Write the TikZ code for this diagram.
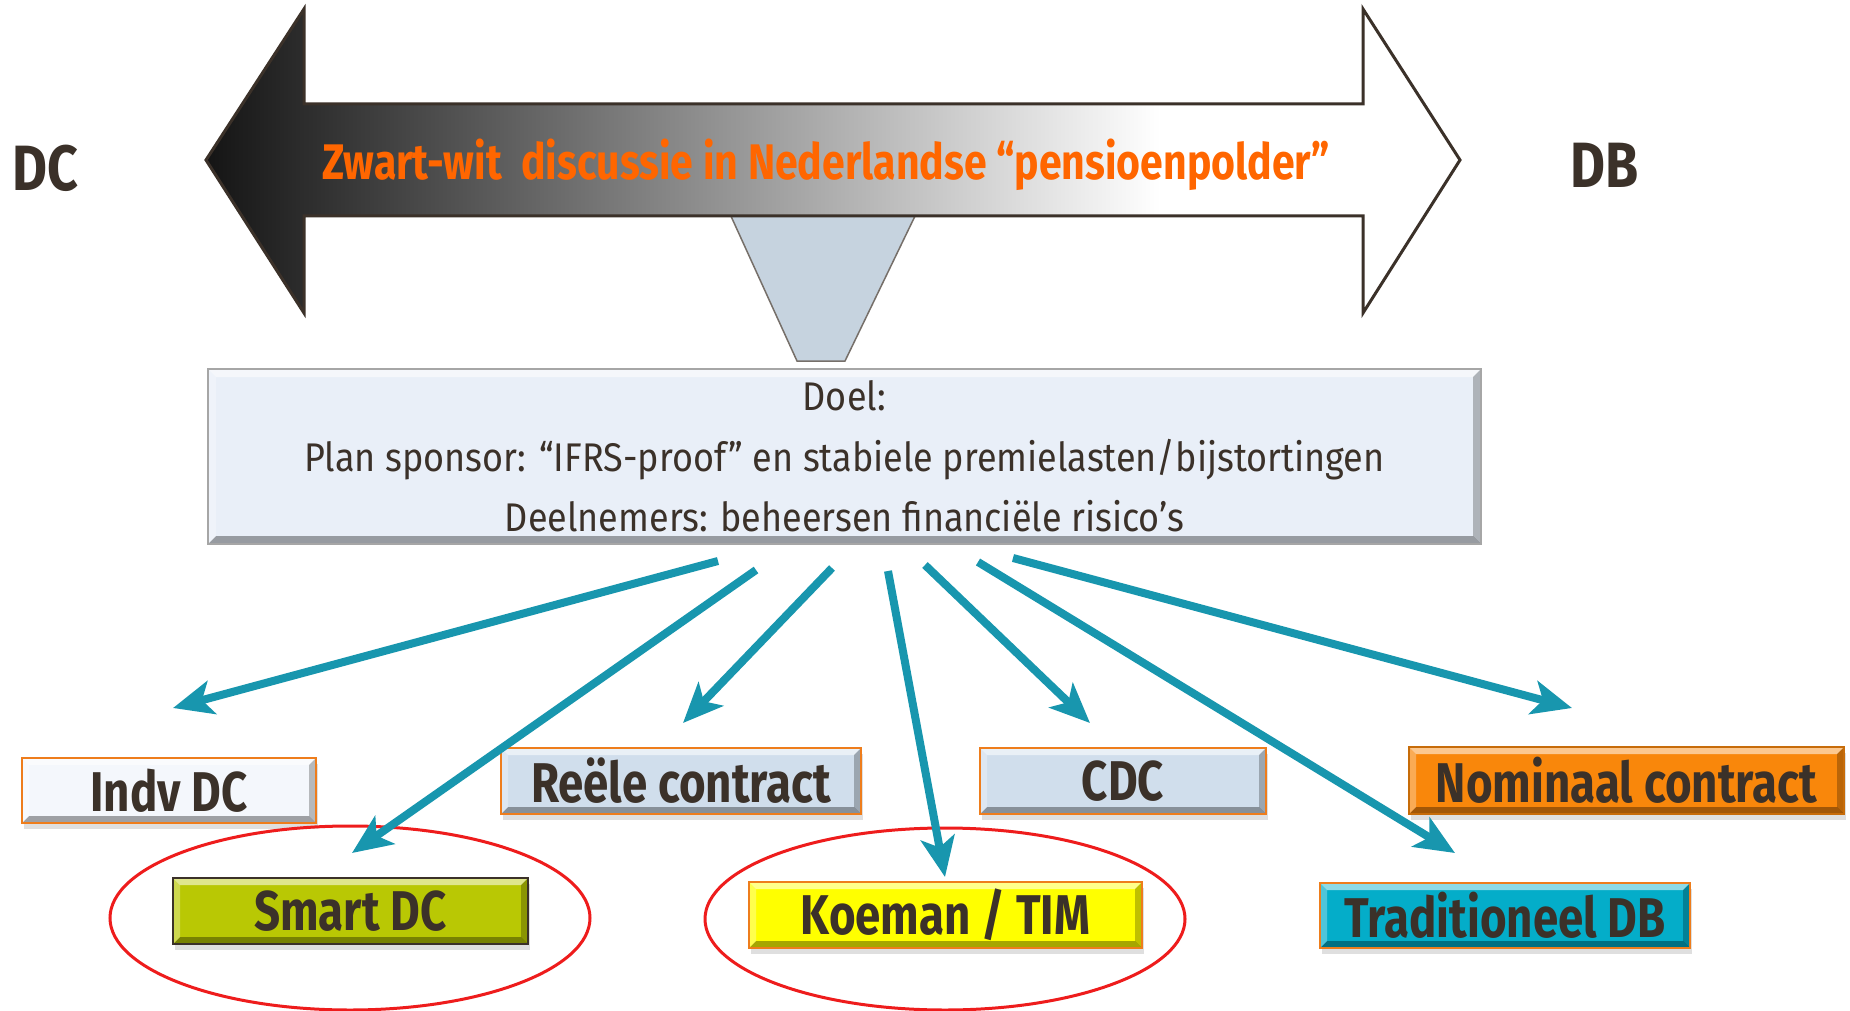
\documentclass[tikz,border=0pt]{standalone}
\usepackage{fontspec}
\setmainfont{Fira Sans}
\newfontfamily\lblfont[FakeStretch=0.815]{Fira Sans}
\newfontfamily\midfont[FakeStretch=0.90]{Fira Sans}
\newfontfamily\ttlfont[FakeStretch=0.82]{Fira Sans}
\newfontfamily\sidefont[FakeStretch=0.84]{Fira Sans}
\usetikzlibrary{arrows.meta,shadows,shapes.geometric}
\definecolor{txt}{HTML}{3B3129}
\definecolor{orng}{HTML}{FF6600}
\definecolor{tealc}{HTML}{1896AE}
\definecolor{lblue}{HTML}{D0DEEC}
\definecolor{boxbg}{HTML}{E9EFF8}
\definecolor{olive}{HTML}{B9C804}
\definecolor{yell}{HTML}{FFFF00}
\definecolor{orfill}{HTML}{F9870B}
\definecolor{cyanf}{HTML}{04ADC9}
\definecolor{obord}{HTML}{EE7D1C}
\definecolor{funnelc}{HTML}{C6D3DF}
\definecolor{redl}{HTML}{EE1C1C}
\definecolor{whitish}{HTML}{F4F7FC}
\tikzset{
  bevel/.style={path picture={
    \fill[white,opacity=.55] (path picture bounding box.north west) -- (path picture bounding box.north east) -- ([xshift=-#1,yshift=-#1]path picture bounding box.north east) -- ([xshift=#1,yshift=-#1]path picture bounding box.north west) -- cycle;
    \fill[black,opacity=.35] (path picture bounding box.south west) -- (path picture bounding box.south east) -- ([xshift=-#1,yshift=#1]path picture bounding box.south east) -- ([xshift=#1,yshift=#1]path picture bounding box.south west) -- cycle;
    \fill[white,opacity=.3] (path picture bounding box.north west) -- (path picture bounding box.south west) -- ([xshift=#1,yshift=#1]path picture bounding box.south west) -- ([xshift=#1,yshift=-#1]path picture bounding box.north west) -- cycle;
    \fill[black,opacity=.25] (path picture bounding box.north east) -- (path picture bounding box.south east) -- ([xshift=-#1,yshift=#1]path picture bounding box.south east) -- ([xshift=-#1,yshift=-#1]path picture bounding box.north east) -- cycle;
  }},
  lbl/.style={draw=obord, line width=2pt, text=txt, inner sep=0pt,
    font=\lblfont\bfseries\fontsize{56}{64}\selectfont, bevel=7pt,
    drop shadow={shadow xshift=2pt, shadow yshift=-6pt, opacity=.25}},
  flow/.style={draw=tealc, line width=8pt, -{Stealth[length=40pt,width=34pt,inset=10pt]}},
  ring/.style={draw=redl, line width=3pt, ellipse, inner sep=0pt},
  side/.style={text=txt, font=\sidefont\bfseries\fontsize{64}{72}\selectfont}
}
\begin{document}
\begin{tikzpicture}[x=1pt,y=-1pt]
\useasboundingbox[fill=white] (0,0) rectangle (1850,1011);
% funnel
\draw[fill=funnelc, draw=txt!70, line width=1.5pt] (730,214) -- (916,214) -- (845,361) -- (797,361) -- cycle;
% big double arrow
\begin{scope}
\clip (206,160) -- (304,9) -- (304,104) -- (1363,104) -- (1363,9) -- (1460,160) -- (1363,313) -- (1363,216) -- (304,216) -- (304,313) -- cycle;
\fill[white] (200,0) rectangle (1470,320);
\shade[left color=black!92, right color=white] (206,0) rectangle (1160,320);
\end{scope}
\draw[draw=txt, line width=3pt, line join=miter] (206,160) -- (304,9) -- (304,104) -- (1363,104) -- (1363,9) -- (1460,160) -- (1363,313) -- (1363,216) -- (304,216) -- (304,313) -- cycle;
\node[text=orng, font=\ttlfont\bfseries\fontsize{50}{56}\selectfont] (title) at (826,165) {Zwart-wit~~discussie in Nederlandse “pensioenpolder”};
\node[side] (dc) at (45,168) {DC};
\node[side] (db) at (1605,165) {DB};
% goal box
\node[fill=boxbg, draw=gray!70, line width=1.5pt, bevel=8pt, minimum width=1273pt, minimum height=175pt, inner sep=0pt,
  align=center, text=txt, font=\midfont\fontsize{40}{60.5}\selectfont] (doel) at (844.5,456.5)
  {Doel:\\Plan sponsor: “IFRS-proof” en stabiele premielasten/bijstortingen\\Deelnemers: beheersen financiële risico’s};
% target boxes
\node[lbl, fill=whitish, minimum width=294pt, minimum height=65pt] (indv) at (169,790.5) {Indv DC};
\node[lbl, fill=lblue, minimum width=360pt, minimum height=66pt] (reele) at (681,781) {Reële contract};
\node[lbl, fill=lblue, minimum width=286pt, minimum height=66pt] (cdc) at (1123,781) {CDC};
\node[lbl, fill=orfill, draw=orfill!80!black, minimum width=435pt, minimum height=67pt] (nominaal) at (1626.5,780.5) {Nominaal contract};
\node[lbl, fill=olive, draw=txt, minimum width=355pt, minimum height=66pt] (smart) at (350.5,911) {Smart DC};
\node[lbl, fill=yell, minimum width=393pt, minimum height=66pt] (koeman) at (945.5,915) {Koeman / TIM};
\node[lbl, fill=cyanf, minimum width=370pt, minimum height=65pt] (trad) at (1505,915.5) {Traditioneel DB};
% rings
\node[ring, minimum width=480pt, minimum height=184pt] (ring1) at (350,918) {};
\node[ring, minimum width=480pt, minimum height=182pt] (ring2) at (945,919) {};
% arrow ends
\coordinate (s1) at (718,561); \coordinate (t1) at (173,708);
\coordinate (s2) at (756,570); \coordinate (t2) at (352,853);
\coordinate (s3) at (832,568); \coordinate (t3) at (683,723);
\coordinate (s4) at (888,571); \coordinate (t4) at (945,877);
\coordinate (s5) at (925,565); \coordinate (t5) at (1090,723);
\coordinate (s6) at (978,562); \coordinate (t6) at (1455,853);
\coordinate (s7) at (1013,558); \coordinate (t7) at (1572,708);
\foreach \i in {1,...,7} {\draw[flow] (s\i) -- (t\i);}
\end{tikzpicture}
\end{document}
